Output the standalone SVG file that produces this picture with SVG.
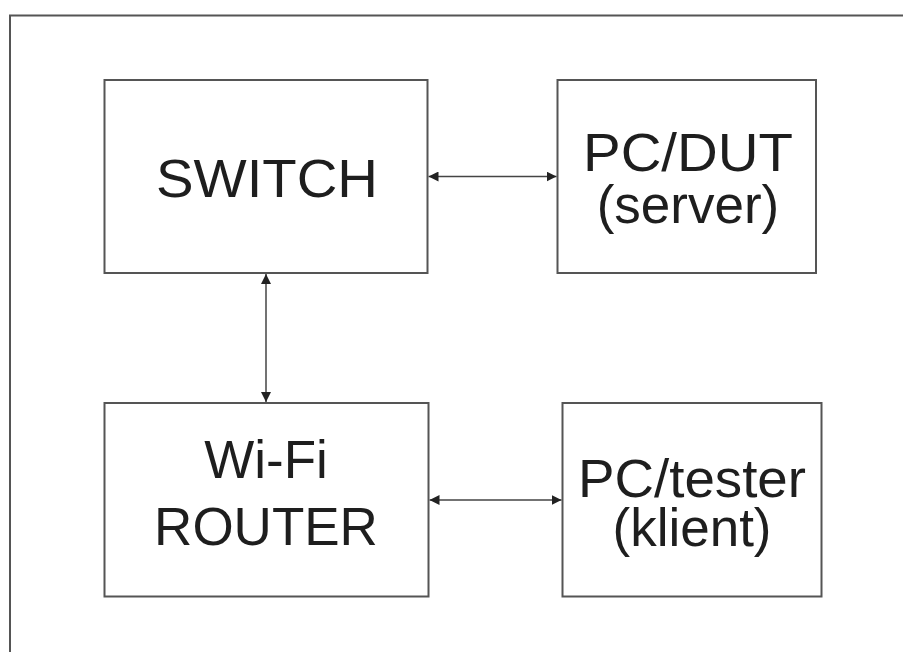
<svg xmlns="http://www.w3.org/2000/svg" width="903" height="652" viewBox="0 0 903 652">
<style>
.box{fill:#fff;stroke:#555;stroke-width:2}
.lbl{font-family:"Liberation Sans",Arial,sans-serif;font-size:53px;fill:#1e1e1e;text-anchor:middle}
.con{stroke:#444;stroke-width:1.5;fill:none;marker-start:url(#ah);marker-end:url(#ah)}
</style>
<defs>
<marker id="ah" viewBox="0 0 10 10" refX="10" refY="5" markerWidth="10" markerHeight="10" markerUnits="userSpaceOnUse" orient="auto-start-reverse">
<path d="M0,0 L10,5 L0,10 Z" fill="#222"/>
</marker>
</defs>
<rect width="903" height="652" fill="#fff"/>
<path d="M10,652 V15.5 H903" fill="none" stroke="#555" stroke-width="2"/>
<g id="switch"><rect class="box" x="104.5" y="80" width="323" height="193"/><text class="lbl" x="267" y="197" textLength="222" lengthAdjust="spacingAndGlyphs">SWITCH</text></g>
<g id="pcdut"><rect class="box" x="557.5" y="80" width="258.5" height="193"/><text class="lbl" x="688" y="171" textLength="210" lengthAdjust="spacingAndGlyphs">PC/DUT</text><text class="lbl" x="688" y="223">(server)</text></g>
<g id="router"><rect class="box" x="104.5" y="403" width="324" height="193.5"/><text class="lbl" x="266" y="478">Wi-Fi</text><text class="lbl" x="266" y="545">ROUTER</text></g>
<g id="pctester"><rect class="box" x="562.5" y="403" width="259" height="193.5"/><text class="lbl" x="692" y="497" textLength="228" lengthAdjust="spacingAndGlyphs">PC/tester</text><text class="lbl" x="692" y="546">(klient)</text></g>
<g id="connectors">
<line class="con" x1="428.5" y1="176.5" x2="556.5" y2="176.5"/>
<line class="con" x1="266" y1="274" x2="266" y2="402"/>
<line class="con" x1="429.5" y1="500" x2="561.5" y2="500"/>
</g>
</svg>
